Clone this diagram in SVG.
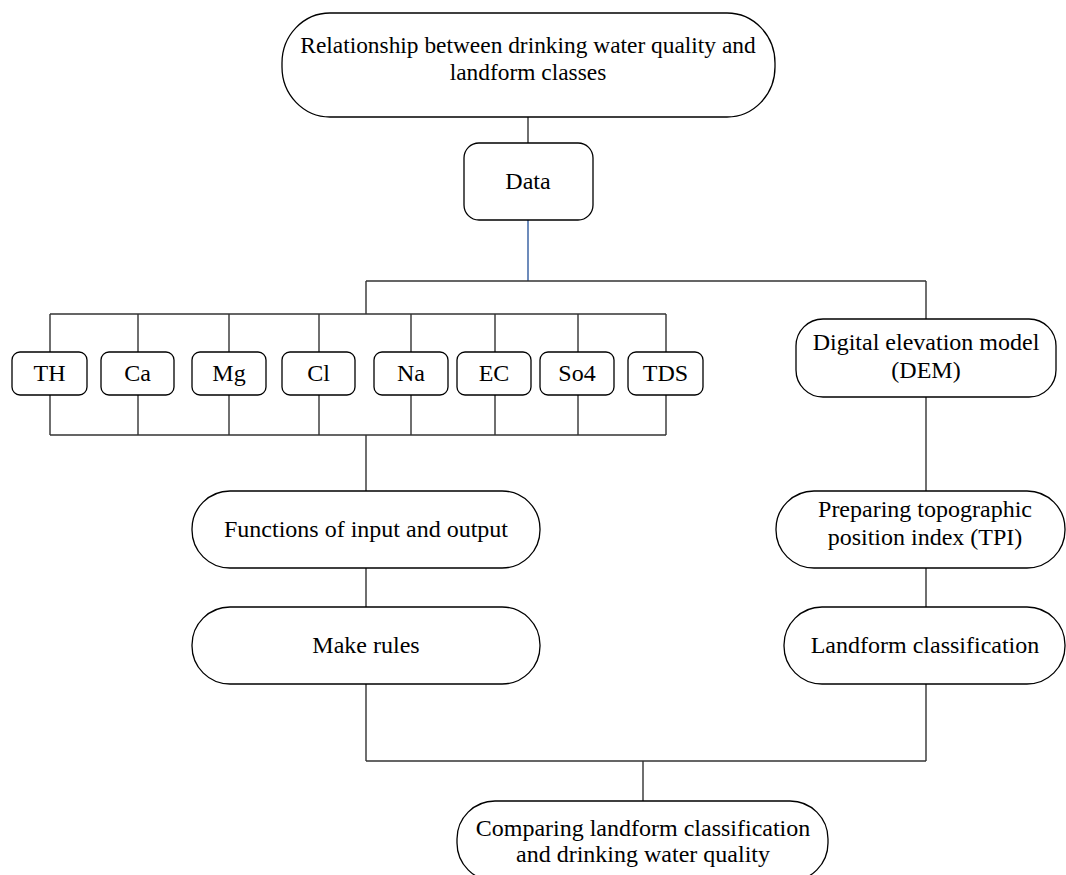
<svg xmlns="http://www.w3.org/2000/svg" width="1066" height="875" viewBox="0 0 1066 875">
<style>
.n{fill:#fff;stroke:#000;stroke-width:1.3}
.c{fill:none;stroke:#333;stroke-width:1.4}
.b{fill:none;stroke:#2f5a9e;stroke-width:1.4}
text{font-family:"Liberation Serif","Times New Roman",serif;font-size:24px;fill:#000;text-anchor:middle}
.t{font-size:23.4px}
</style>
<rect width="1066" height="875" fill="#fff"/>
<g id="connectors">
<path class="c" d="M528 117V143"/>
<path class="b" d="M528 220V281"/>
<path class="c" d="M366 281H926M366 281V314M926 281V319"/>
<path class="c" d="M50 314H666M50 314V352M138 314V352M229 314V352M319 314V352M411 314V352M495 314V352M578 314V352M666 314V352"/>
<path class="c" d="M50 435H666M50 395V435M138 395V435M229 395V435M319 395V435M411 395V435M495 395V435M578 395V435M666 395V435"/>
<path class="c" d="M366 435V491M366 568V607M366 684V761"/>
<path class="c" d="M926 397V491M926 568V607M926 684V761"/>
<path class="c" d="M366 761H926M643 761V801"/>
</g>
<g id="top"><rect class="n" x="282" y="13" width="493" height="104" rx="48" ry="50"/><text class="t" x="528" y="53">Relationship between drinking water quality and</text><text class="t" x="528" y="80">landform classes</text></g>
<g id="data"><rect class="n" x="464" y="143" width="129" height="77" rx="15"/><text x="528" y="189">Data</text></g>
<g id="th"><rect class="n" x="12" y="352" width="75" height="43" rx="8"/><text x="49.5" y="381">TH</text></g>
<g id="ca"><rect class="n" x="101" y="352" width="73" height="43" rx="8"/><text x="137.5" y="381">Ca</text></g>
<g id="mg"><rect class="n" x="192" y="352" width="74" height="43" rx="8"/><text x="229" y="381">Mg</text></g>
<g id="cl"><rect class="n" x="282" y="352" width="73" height="43" rx="8"/><text x="318.5" y="381">Cl</text></g>
<g id="na"><rect class="n" x="374" y="352" width="74" height="43" rx="8"/><text x="411" y="381">Na</text></g>
<g id="ec"><rect class="n" x="457" y="352" width="74" height="43" rx="8"/><text x="494" y="381">EC</text></g>
<g id="so4"><rect class="n" x="540" y="352" width="74" height="43" rx="8"/><text x="577" y="381">So4</text></g>
<g id="tds"><rect class="n" x="628" y="352" width="75" height="43" rx="8"/><text x="665.5" y="381">TDS</text></g>
<g id="dem"><rect class="n" x="796" y="319" width="260" height="78" rx="27"/><text x="926" y="350">Digital elevation model</text><text x="926" y="378">(DEM)</text></g>
<g id="functions"><rect class="n" x="192" y="491" width="348" height="77" rx="38"/><text x="366" y="537">Functions of input and output</text></g>
<g id="rules"><rect class="n" x="192" y="607" width="348" height="77" rx="38"/><text x="366" y="653">Make rules</text></g>
<g id="tpi"><rect class="n" x="776" y="491" width="289" height="77" rx="38"/><text x="925" y="517">Preparing topographic</text><text x="925" y="545">position index (TPI)</text></g>
<g id="landform"><rect class="n" x="784" y="607" width="281" height="77" rx="38"/><text x="925" y="653">Landform classification</text></g>
<g id="compare"><rect class="n" x="457" y="801" width="371" height="80" rx="38"/><text x="643" y="836">Comparing landform classification</text><text x="643" y="862">and drinking water quality</text></g>
</svg>
